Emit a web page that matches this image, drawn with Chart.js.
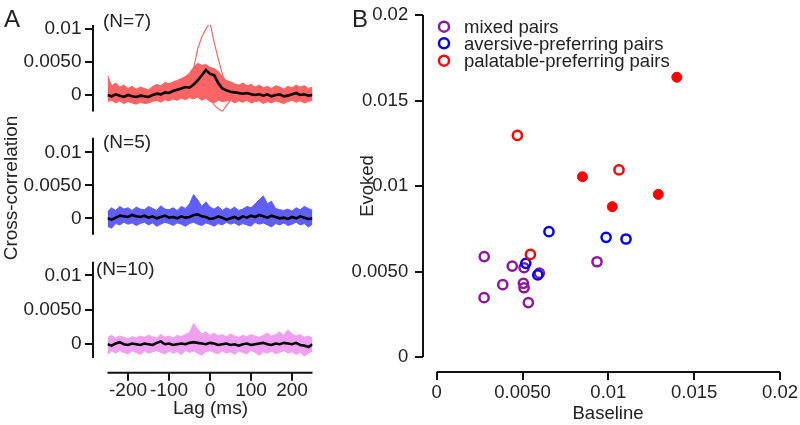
<!DOCTYPE html>
<html>
<head>
<meta charset="utf-8">
<script src="https://cdn.jsdelivr.net/npm/chart.js@4.4.1/dist/chart.umd.min.js"></script>
<style>
body{margin:0;background:#fff;}
#wrap{position:relative;width:800px;height:425px;}
#wrap canvas{position:absolute;left:0;top:0;}
</style>
</head>
<body>
<div id="wrap">
<canvas id="grafB" width="800" height="425"></canvas>
<canvas id="graf1" width="800" height="425"></canvas>
<canvas id="graf2" width="800" height="425"></canvas>
<canvas id="graf3" width="800" height="425"></canvas>
</div>
<script>
// lag axis (ms)
const lags = [-250,-240,-230,-220,-210,-200,-190,-180,-170,-160,-150,-140,-130,-120,-110,-100,-90,-80,-70,-60,-50,-40,-30,-20,-10,0,10,20,30,40,50,60,70,80,90,100,110,120,130,140,150,160,170,180,190,200,210,220,230,240,250];

// cross-correlation values, in units of 0.0001
const unit = 0.0001;
const palMean  = [0,-2,1,-1,-3,0,-2,-3,-1,-2,-3,0,2,1,4,3,6,8,10,12,11,16,22,30,38,32,30,18,10,7,5,4,3,2,3,1,0,1,-1,1,-2,0,1,-2,-1,1,3,0,1,-1,0];
const palUpper = [30,14,18,12,15,10,13,9,12,10,8,13,16,14,19,17,20,22,25,28,33,42,48,45,46,42,40,36,28,22,20,17,15,18,14,16,12,15,11,13,10,14,12,9,13,11,15,12,14,10,12];
const palLower = [-10,-8,-12,-9,-13,-10,-12,-14,-11,-13,-12,-10,-8,-11,-7,-9,-6,-8,-5,-7,-4,-6,-3,-8,-5,-10,-12,-8,-10,-9,-8,-12,-9,-11,-8,-12,-10,-9,-13,-10,-12,-9,-11,-13,-10,-8,-11,-9,-12,-10,-8];
const palPeak  = [5,2,6,3,7,4,1,5,3,6,2,4,5,8,6,10,9,13,15,18,22,40,70,88,100,110,80,55,32,15,6,4,2,5,1,3,-2,2,4,0,3,-1,2,5,1,3,0,4,2,-1,3];
const palDip   = [-3,-6,-2,-8,-4,-7,-5,-9,-6,-3,-7,-4,-8,-5,-2,-6,-3,-1,-4,0,-2,2,-1,3,1,-5,-15,-21,-25,-16,-8,-4,-6,-2,-5,-7,-3,-6,-4,-8,-5,-2,-7,-4,-6,-3,-5,-8,-4,-6,-3];

const aveMean  = [0,-2,1,4,3,2,5,3,2,4,1,3,0,2,4,1,2,0,3,1,2,5,6,3,2,-1,0,3,1,-2,0,2,-1,3,1,4,2,5,3,1,4,2,0,1,-1,2,0,3,1,-1,0];
const aveUpper = [10,16,12,18,14,16,12,17,14,13,18,15,12,19,14,13,16,12,18,15,22,36,28,18,25,17,14,18,12,16,13,17,12,14,18,16,22,28,34,22,26,15,13,12,14,11,16,13,18,15,12];
const aveLower = [-12,-15,-8,-10,-6,-9,-7,-11,-8,-6,-10,-7,-12,-9,-6,-8,-11,-7,-9,-12,-8,-6,-9,-11,-7,-9,-12,-8,-10,-6,-9,-7,-11,-8,-10,-12,-6,-9,-7,-10,-13,-8,-10,-7,-11,-9,-6,-10,-8,-13,-9];

const mixMean  = [0,-2,1,3,0,-1,1,0,-1,1,0,-1,2,4,0,1,-1,0,1,0,2,3,2,1,0,2,1,-1,0,1,-1,0,-2,0,1,-1,0,1,2,0,-1,1,0,2,1,0,2,-1,-2,-4,0];
const mixUpper = [10,13,9,12,10,8,11,9,12,10,13,11,9,14,10,12,9,13,11,14,17,30,22,15,18,13,16,12,14,11,15,12,10,13,11,14,12,10,13,16,12,14,18,13,21,15,12,14,10,12,9];
const mixLower = [-15,-10,-13,-9,-12,-14,-10,-12,-15,-10,-13,-11,-9,-12,-14,-10,-13,-11,-15,-9,-12,-10,-13,-16,-11,-9,-12,-14,-10,-13,-11,-15,-10,-12,-14,-9,-12,-16,-11,-13,-10,-14,-12,-9,-13,-11,-15,-12,-17,-13,-10];

// panel B: baseline vs evoked
const mixedBase = [0.00277,0.0044,0.00509,0.00385,0.00505,0.00509,0.00276,0.00534,0.00598,0.00934];
const mixedEvok = [0.00587,0.00532,0.00522,0.00423,0.00431,0.00405,0.00347,0.00318,0.0049,0.00557];
const aversBase = [0.00654,0.00987,0.01103,0.00519,0.00589];
const aversEvok = [0.00733,0.0070,0.0069,0.00548,0.0048];
const palOpenBase = [0.0047,0.01062,0.00546];
const palOpenEvok = [0.01296,0.01094,0.006];
const palFillBase = [0.01399,0.00849,0.01291,0.01023];
const palFillEvok = [0.01636,0.01054,0.00951,0.00879];

// ticks
const aYTicks = [0, 0.005, 0.01];
const aYLabels = ['0', '0.0050', '0.01'];
const lagTicks = [-200, -100, 0, 100, 200];
const lagLabels = ['-200', '-100', '0', '100', '200'];
const bTicks = [0, 0.005, 0.01, 0.015, 0.02];
const bLabels = ['0', '0.0050', '0.01', '0.015', '0.02'];

const fonte = 'Liberation Sans, Arial, sans-serif';
const corTexto = '#222';
const invisivel = 'rgba(0,0,0,0)';

function pontos(arr){
    return lags.map((l, i) => ({x: l, y: arr[i] * unit}));
}
function xy(xs, ys){
    return xs.map((v, i) => ({x: v, y: ys[i]}));
}

// axis lines drawn apart from the data area, plus the loose text
const eixosSoltos = {
    id: 'eixosSoltos',
    afterDraw(chart, args, o){
        const ctx = chart.ctx, a = chart.chartArea;
        const ys = chart.scales.y, xs = chart.scales.x;
        ctx.save();
        ctx.strokeStyle = '#111';
        ctx.lineWidth = 2;
        ctx.beginPath();
        const lx = a.left - o.gapX;
        ctx.moveTo(lx, a.top);
        ctx.lineTo(lx, a.bottom);
        ys.ticks.forEach(t => {
            const p = Math.round(ys.getPixelForValue(t.value));
            ctx.moveTo(lx - 8, p);
            ctx.lineTo(lx, p);
        });
        if(o.showX){
            const ly = a.bottom + o.gapY;
            ctx.moveTo(a.left, ly);
            ctx.lineTo(a.right, ly);
            xs.ticks.forEach(t => {
                const p = Math.round(xs.getPixelForValue(t.value));
                ctx.moveTo(p, ly);
                ctx.lineTo(p, ly + 8);
            });
        }
        ctx.stroke();

        ctx.fillStyle = corTexto;
        (o.textos || []).forEach(t => {
            ctx.save();
            ctx.font = t.size + 'px ' + fonte;
            ctx.textAlign = t.align || 'left';
            ctx.textBaseline = 'alphabetic';
            ctx.translate(t.x, t.y);
            if(t.rot) ctx.rotate(-Math.PI / 2);
            ctx.fillText(t.text, 0, 0);
            ctx.restore();
        });

        (o.legenda || []).forEach(l => {
            ctx.beginPath();
            ctx.strokeStyle = l.cor;
            ctx.lineWidth = 2.5;
            ctx.arc(l.x, l.y, 5, 0, Math.PI * 2);
            ctx.stroke();
            ctx.font = '18.5px ' + fonte;
            ctx.fillStyle = corTexto;
            ctx.textAlign = 'left';
            ctx.fillText(l.text, l.x + 20, l.y + 6.5);
        });
        ctx.restore();
    }
};

function graficoLag(id, cor, media, cima, baixo, extras, cfg){
    const sets = [
        {data: pontos(media), borderColor: '#000', borderWidth: 2.6, pointRadius: 0, fill: false}
    ];
    extras.forEach(e => sets.push({data: pontos(e), borderColor: cor, borderWidth: 1.2, pointRadius: 0, fill: false}));
    sets.push({data: pontos(cima), borderColor: cor, backgroundColor: cor, borderWidth: 1, pointRadius: 0, fill: '+1'});
    sets.push({data: pontos(baixo), borderColor: cor, borderWidth: 1, pointRadius: 0, fill: false});

    return new Chart(document.getElementById(id), {
        type: 'line',
        data: {datasets: sets},
        options: {
            responsive: false,
            animation: false,
            events: [],
            layout: {padding: {left: 7.5, right: 487.5, top: cfg.top, bottom: cfg.bottom}},
            plugins: {
                legend: {display: false},
                tooltip: {enabled: false},
                eixosSoltos: {gapX: 14.5, gapY: 14.7, showX: cfg.showX, textos: cfg.textos}
            },
            scales: {
                x: {
                    type: 'linear', min: -250, max: 250,
                    display: cfg.showX,
                    grid: {display: true, drawOnChartArea: false, color: invisivel, tickLength: 21.5},
                    border: {display: false},
                    afterBuildTicks: s => { s.ticks = lagTicks.map(v => ({value: v})); },
                    afterFit: s => { s.height = cfg.showX ? 50 : 0; },
                    ticks: {
                        autoSkip: false, maxRotation: 0, padding: 0,
                        color: corTexto, font: {family: fonte, size: 19},
                        callback: (v, i) => lagLabels[i]
                    }
                },
                y: {
                    min: cfg.min, max: cfg.max,
                    grid: {display: true, drawOnChartArea: false, color: invisivel, tickLength: 26},
                    border: {display: false},
                    afterBuildTicks: s => { s.ticks = aYTicks.map(v => ({value: v})); },
                    afterFit: s => { s.width = 100; },
                    ticks: {
                        padding: 0, color: corTexto, font: {family: fonte, size: 19},
                        callback: (v, i) => aYLabels[i]
                    }
                }
            }
        },
        plugins: [eixosSoltos]
    });
}

graficoLag('graf1', 'rgb(250,100,100)', palMean, palUpper, palLower, [palPeak, palDip], {
    min: -0.0025, max: 0.0106, top: 25, bottom: 313.5, showX: false,
    textos: [
        {text: 'A', x: 4, y: 27, size: 24},
        {text: '(N=7)', x: 103, y: 26.5, size: 19}
    ]
});

graficoLag('graf2', 'rgb(95,95,245)', aveMean, aveUpper, aveLower, [], {
    min: -0.0025, max: 0.0122, top: 137.8, bottom: 190.2, showX: false,
    textos: [
        {text: '(N=5)', x: 103, y: 148.3, size: 19},
        {text: 'Cross-correlation', x: 17, y: 188, size: 19, rot: true, align: 'center'}
    ]
});

graficoLag('graf3', 'rgb(240,160,240)', mixMean, mixUpper, mixLower, [], {
    min: -0.002, max: 0.012, top: 261.7, bottom: 17, showX: true,
    textos: [
        {text: '(N=10)', x: 96, y: 275, size: 19},
        {text: 'Lag (ms)', x: 210.5, y: 414.3, size: 19, align: 'center'}
    ]
});

// panel B
const roxo = 'rgb(140,25,155)';
const azul = 'rgb(0,0,255)';
const vermelho = 'rgb(255,0,0)';

new Chart(document.getElementById('grafB'), {
    type: 'scatter',
    data: {
        datasets: [
            {data: xy(mixedBase, mixedEvok), order: 4, pointRadius: 4.6, borderWidth: 2.5, borderColor: roxo, backgroundColor: invisivel},
            {data: xy(aversBase, aversEvok), order: 3, pointRadius: 4.6, borderWidth: 2.5, borderColor: azul, backgroundColor: invisivel},
            {data: xy(palOpenBase, palOpenEvok), order: 2, pointRadius: 4.6, borderWidth: 2.5, borderColor: vermelho, backgroundColor: invisivel},
            {data: xy(palFillBase, palFillEvok), order: 1, pointRadius: 5, borderWidth: 1, borderColor: vermelho, backgroundColor: vermelho}
        ]
    },
    options: {
        responsive: false,
        animation: false,
        events: [],
        layout: {padding: {left: 336.7, right: 20, top: 15, bottom: 8}},
        plugins: {
            legend: {display: false},
            tooltip: {enabled: false},
            eixosSoltos: {
                gapX: 13.7, gapY: 15, showX: true,
                textos: [
                    {text: 'B', x: 352, y: 27, size: 24},
                    {text: 'Baseline', x: 608, y: 419.3, size: 18.5, align: 'center'},
                    {text: 'Evoked', x: 373, y: 186, size: 18.5, rot: true, align: 'center'}
                ],
                legenda: [
                    {text: 'mixed pairs', cor: roxo, x: 444, y: 26.7},
                    {text: 'aversive-preferring pairs', cor: azul, x: 444, y: 43.3},
                    {text: 'palatable-preferring pairs', cor: vermelho, x: 444, y: 60.7}
                ]
            }
        },
        scales: {
            x: {
                type: 'linear', min: 0, max: 0.02,
                grid: {display: true, drawOnChartArea: false, color: invisivel, tickLength: 24.4},
                border: {display: false},
                afterBuildTicks: s => { s.ticks = bTicks.map(v => ({value: v})); },
                afterFit: s => { s.height = 60; },
                ticks: {
                    autoSkip: false, maxRotation: 0, padding: 0,
                    color: corTexto, font: {family: fonte, size: 18.5},
                    callback: (v, i) => bLabels[i]
                }
            },
            y: {
                min: 0, max: 0.02,
                grid: {display: true, drawOnChartArea: false, color: invisivel, tickLength: 28.5},
                border: {display: false},
                afterBuildTicks: s => { s.ticks = bTicks.map(v => ({value: v})); },
                afterFit: s => { s.width = 100; },
                ticks: {
                    padding: 0, color: corTexto, font: {family: fonte, size: 18.5},
                    callback: (v, i) => bLabels[i]
                }
            }
        }
    },
    plugins: [eixosSoltos]
});
</script>
</body>
</html>
